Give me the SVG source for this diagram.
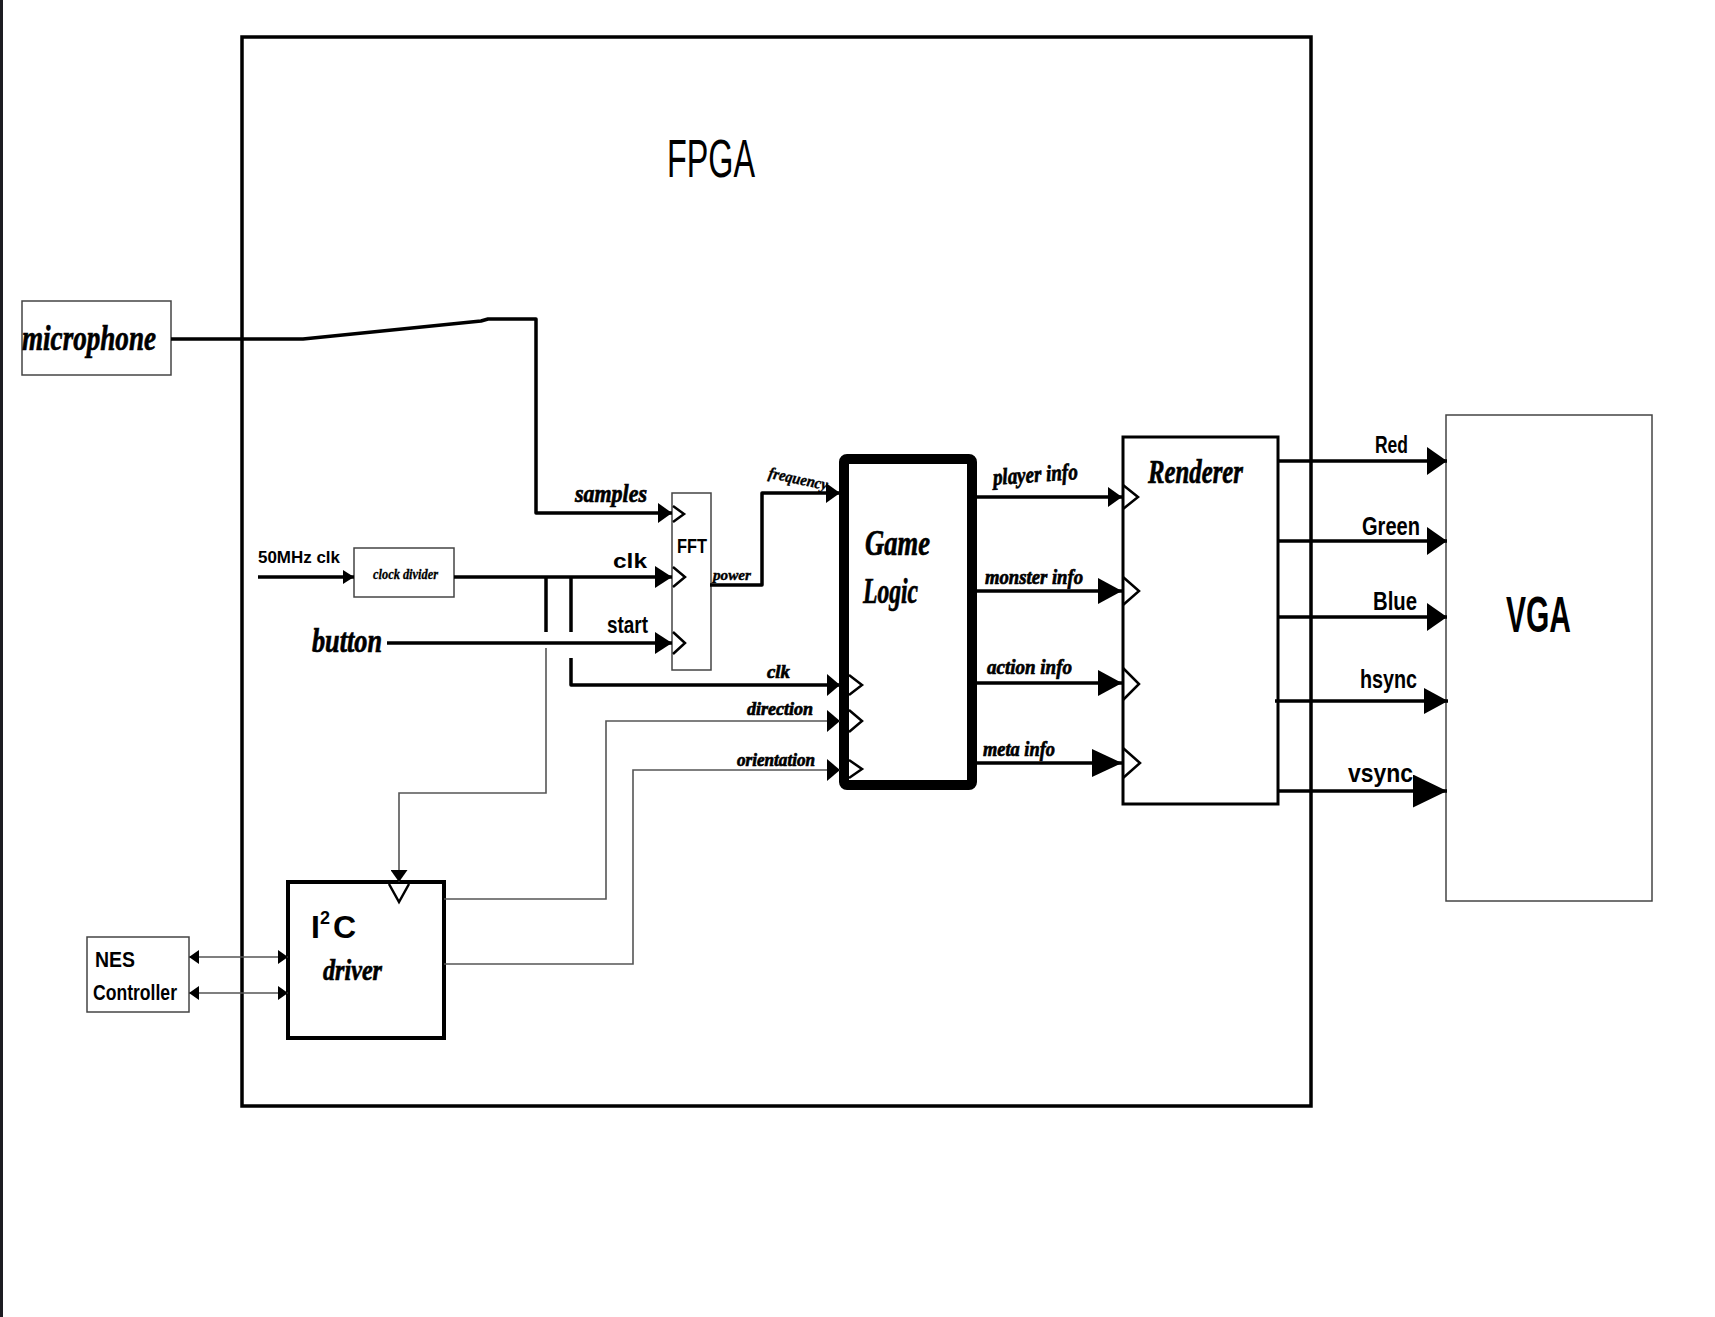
<svg xmlns="http://www.w3.org/2000/svg" width="1715" height="1317" viewBox="0 0 1715 1317">
<style>
.thinbox{fill:#fff;stroke:#444;stroke-width:1.5}
.midbox{fill:#fff;stroke:#000;stroke-width:3}
.w{fill:none;stroke:#000;stroke-width:3.5;stroke-linejoin:round}
.wt{fill:none;stroke:#555;stroke-width:1.6}
.chev{fill:none;stroke:#000;stroke-width:2.5;stroke-linejoin:miter}
.p{font-family:"Liberation Sans",Arial,sans-serif;font-weight:bold;fill:#000}
.c{font-family:"Liberation Serif","Times New Roman",serif;font-weight:bold;font-style:italic;fill:#000;stroke:#000;stroke-width:0.7}
</style>
<defs>
<marker id="aS" viewBox="0 0 10 10" preserveAspectRatio="none" refX="10" refY="5" markerWidth="14" markerHeight="20" markerUnits="userSpaceOnUse" orient="auto"><path d="M0,0 L10,5 L0,10 z" fill="#000"/></marker>
<marker id="aT" viewBox="0 0 10 10" preserveAspectRatio="none" refX="10" refY="5" markerWidth="11" markerHeight="14" markerUnits="userSpaceOnUse" orient="auto"><path d="M0,0 L10,5 L0,10 z" fill="#000"/></marker>
<marker id="aM" viewBox="0 0 10 10" preserveAspectRatio="none" refX="10" refY="5" markerWidth="17" markerHeight="22" markerUnits="userSpaceOnUse" orient="auto"><path d="M0,0 L10,5 L0,10 z" fill="#000"/></marker>
<marker id="aG" viewBox="0 0 10 10" preserveAspectRatio="none" refX="10" refY="5" markerWidth="13" markerHeight="22" markerUnits="userSpaceOnUse" orient="auto"><path d="M0,0 L10,5 L0,10 z" fill="#000"/></marker>
<marker id="aL" viewBox="0 0 10 10" preserveAspectRatio="none" refX="10" refY="5" markerWidth="24" markerHeight="26" markerUnits="userSpaceOnUse" orient="auto"><path d="M0,0 L10,5 L0,10 z" fill="#000"/></marker>
<marker id="aX" viewBox="0 0 10 10" preserveAspectRatio="none" refX="10" refY="5" markerWidth="30" markerHeight="28" markerUnits="userSpaceOnUse" orient="auto"><path d="M0,0 L10,5 L0,10 z" fill="#000"/></marker>
<marker id="aV" viewBox="0 0 10 10" preserveAspectRatio="none" refX="10" refY="5" markerWidth="20" markerHeight="28" markerUnits="userSpaceOnUse" orient="auto"><path d="M0,0 L10,5 L0,10 z" fill="#000"/></marker>
<marker id="aVL" viewBox="0 0 10 10" preserveAspectRatio="none" refX="10" refY="5" markerWidth="34" markerHeight="33" markerUnits="userSpaceOnUse" orient="auto"><path d="M0,0 L10,5 L0,10 z" fill="#000"/></marker>
<marker id="aD" viewBox="0 0 10 10" preserveAspectRatio="none" refX="10" refY="5" markerWidth="12" markerHeight="17" markerUnits="userSpaceOnUse" orient="auto"><path d="M0,0 L10,5 L0,10 z" fill="#000"/></marker>
<marker id="aB" viewBox="0 0 10 10" preserveAspectRatio="none" refX="10" refY="5" markerWidth="10" markerHeight="14" markerUnits="userSpaceOnUse" orient="auto-start-reverse"><path d="M0,0 L10,5 L0,10 z" fill="#000"/></marker>
</defs>
<rect x="0" y="0" width="1715" height="1317" fill="#fff"/>
<rect x="0" y="0" width="3" height="1317" fill="#1c1c22"/>

<g id="fpga">
<rect x="242" y="37" width="1069" height="1069" fill="none" stroke="#000" stroke-width="3.5"/>
<text class="p" x="667" y="177" font-size="54" style="font-weight:normal" textLength="88" lengthAdjust="spacingAndGlyphs">FPGA</text>
</g>

<g id="microphone">
<rect class="thinbox" x="22" y="301" width="149" height="74"/>
<text class="c" x="22" y="350" font-size="36" textLength="134" lengthAdjust="spacingAndGlyphs">microphone</text>
</g>

<g id="clock-divider">
<rect class="thinbox" x="354" y="548" width="100" height="49"/>
<text class="c" x="373" y="579" font-size="14" style="stroke-width:0.3" textLength="65" lengthAdjust="spacingAndGlyphs">clock divider</text>
</g>

<g id="fft">
<rect class="thinbox" x="672" y="493" width="39" height="177" stroke="#555"/>
<text class="p" x="677" y="553" font-size="20" textLength="30" lengthAdjust="spacingAndGlyphs">FFT</text>
<polyline class="chev" points="673,506 684,514 673,522"/>
<polyline class="chev" points="673,567 685,577 673,587"/>
<polyline class="chev" points="673,632 685,643 673,654"/>
</g>

<g id="game-logic">
<rect x="844" y="459" width="128" height="326" rx="3" fill="#fff" stroke="#000" stroke-width="10"/>
<text class="c" x="865" y="555" font-size="36" textLength="65" lengthAdjust="spacingAndGlyphs">Game</text>
<text class="c" x="863" y="603" font-size="36" textLength="55" lengthAdjust="spacingAndGlyphs">Logic</text>
<polyline class="chev" points="849,675 862,685 849,695"/>
<polyline class="chev" points="849,710 862,721 849,732"/>
<polyline class="chev" points="849,760 862,769 849,778"/>
</g>

<g id="renderer">
<rect class="midbox" x="1123" y="437" width="155" height="367"/>
<text class="c" x="1148" y="483" font-size="34" textLength="95" lengthAdjust="spacingAndGlyphs">Renderer</text>
<polyline class="chev" points="1123,485 1138,497 1123,509"/>
<polyline class="chev" points="1123,577 1139,591 1123,605"/>
<polyline class="chev" points="1123,668 1139,684 1123,700"/>
<polyline class="chev" points="1123,748 1140,763 1123,778"/>
</g>

<g id="vga">
<rect class="thinbox" x="1446" y="415" width="206" height="486" stroke="#555"/>
<text class="p" x="1506" y="632" font-size="50" textLength="65" lengthAdjust="spacingAndGlyphs">VGA</text>
</g>

<g id="i2c-driver">
<rect x="288" y="882" width="156" height="156" fill="#fff" stroke="#000" stroke-width="4"/>
<text class="p" x="311" y="938" font-size="32">I<tspan font-size="18" dy="-14">2</tspan><tspan dx="3" dy="14">C</tspan></text>
<text class="c" x="323" y="980" font-size="30" textLength="59" lengthAdjust="spacingAndGlyphs">driver</text>
<polyline class="chev" points="389,884 399,902 409,884"/>
</g>

<g id="nes-controller">
<rect class="thinbox" x="87" y="937" width="102" height="75"/>
<text class="p" x="95" y="967" font-size="22" textLength="40" lengthAdjust="spacingAndGlyphs">NES</text>
<text class="p" x="93" y="1000" font-size="22" textLength="84" lengthAdjust="spacingAndGlyphs">Controller</text>
</g>

<g id="button">
<text class="c" x="312" y="652" font-size="34" textLength="70" lengthAdjust="spacingAndGlyphs">button</text>
</g>

<g id="connectors">
<path class="w" d="M171,339 H303 L481,321 L488,319 H536 V513 H672" stroke-width="4" marker-end="url(#aS)"/>
<path class="w" d="M258,577 H354" marker-end="url(#aT)"/>
<path class="w" d="M454,577 H672" marker-end="url(#aM)"/>
<path class="w" d="M387,643 H672" marker-end="url(#aM)"/>
<path class="w" d="M546,577 V632"/>
<path class="wt" d="M546,648 V793 H399 V882" marker-end="url(#aD)"/>
<path class="w" d="M571,577 V632"/>
<path class="w" d="M571,658 V685 H840" marker-end="url(#aG)"/>
<path class="w" d="M710,585 H762 V493 H840" stroke-width="3" marker-end="url(#aS)"/>
<path class="wt" d="M444,899 H606 V721 H840" marker-end="url(#aG)"/>
<path class="wt" d="M444,964 H633 V770 H840" marker-end="url(#aG)"/>
<path class="w" d="M977,497 H1122" stroke-width="3" marker-end="url(#aS)"/>
<path class="w" d="M977,591 H1122" stroke-width="3" marker-end="url(#aL)"/>
<path class="w" d="M977,683 H1122" stroke-width="3" marker-end="url(#aL)"/>
<path class="w" d="M977,763 H1122" stroke-width="3" marker-end="url(#aX)"/>
<path class="w" d="M1278,461 H1447" stroke-width="3" marker-end="url(#aV)"/>
<path class="w" d="M1278,541 H1447" stroke-width="3" marker-end="url(#aV)"/>
<path class="w" d="M1278,617 H1447" stroke-width="3" marker-end="url(#aV)"/>
<path class="w" d="M1275,701 H1448" stroke-width="3" marker-end="url(#aL)"/>
<path class="w" d="M1278,791 H1447" stroke-width="3" marker-end="url(#aVL)"/>
<path class="wt" d="M189,957 H288" stroke="#333" stroke-width="2" marker-start="url(#aB)" marker-end="url(#aB)"/>
<path class="wt" d="M189,993 H288" stroke="#333" stroke-width="2" marker-start="url(#aB)" marker-end="url(#aB)"/>
</g>

<g id="labels">
<text class="c" x="575" y="502" font-size="26" textLength="72" lengthAdjust="spacingAndGlyphs">samples</text>
<text class="p" x="613" y="568" font-size="20" textLength="34" lengthAdjust="spacingAndGlyphs">clk</text>
<text class="p" x="607" y="633" font-size="24" textLength="41" lengthAdjust="spacingAndGlyphs">start</text>
<text class="p" x="258" y="563" font-size="16" textLength="82" lengthAdjust="spacingAndGlyphs">50MHz clk</text>
<text class="c" x="713" y="580" font-size="14" style="stroke-width:0.4" textLength="38" lengthAdjust="spacingAndGlyphs">power</text>
<text class="c" x="768" y="484" font-size="16" style="stroke-width:0.4" textLength="60" lengthAdjust="spacingAndGlyphs" transform="rotate(12 798 480)">frequency</text>
<text class="c" x="767" y="678" font-size="19" textLength="23" lengthAdjust="spacingAndGlyphs">clk</text>
<text class="c" x="747" y="715" font-size="18" textLength="66" lengthAdjust="spacingAndGlyphs">direction</text>
<text class="c" x="737" y="766" font-size="18" textLength="78" lengthAdjust="spacingAndGlyphs">orientation</text>
<text class="c" x="993" y="482" font-size="23" textLength="85" lengthAdjust="spacingAndGlyphs" transform="rotate(-4 1035 478)">player info</text>
<text class="c" x="985" y="584" font-size="21" textLength="98" lengthAdjust="spacingAndGlyphs">monster info</text>
<text class="c" x="987" y="674" font-size="21" textLength="85" lengthAdjust="spacingAndGlyphs">action info</text>
<text class="c" x="983" y="756" font-size="21" textLength="72" lengthAdjust="spacingAndGlyphs">meta info</text>
<text class="p" x="1375" y="453" font-size="24" textLength="33" lengthAdjust="spacingAndGlyphs">Red</text>
<text class="p" x="1362" y="535" font-size="26" textLength="58" lengthAdjust="spacingAndGlyphs">Green</text>
<text class="p" x="1373" y="610" font-size="26" textLength="44" lengthAdjust="spacingAndGlyphs">Blue</text>
<text class="p" x="1360" y="688" font-size="26" textLength="57" lengthAdjust="spacingAndGlyphs">hsync</text>
<text class="p" x="1348" y="782" font-size="26" textLength="65" lengthAdjust="spacingAndGlyphs">vsync</text>
</g>
</svg>
